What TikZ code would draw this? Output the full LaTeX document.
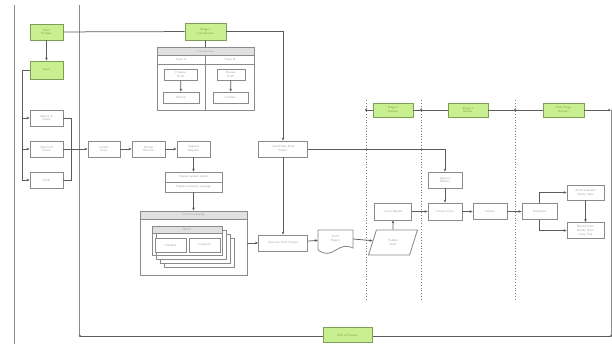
\documentclass[tikz,border=0pt]{standalone}
\usetikzlibrary{arrows.meta,shapes.geometric,calc}
\definecolor{lgreen}{HTML}{C8F090}
\definecolor{dgreen}{HTML}{7E9E55}
\definecolor{bgray}{HTML}{8A8A8A}
\definecolor{hgray}{HTML}{E0E0E0}
\definecolor{lcol}{HTML}{5C5C5C}
\definecolor{tcol}{HTML}{A0A0A0}
\definecolor{gtcol}{HTML}{7A9A50}
\tikzset{
  bx/.style={draw=bgray, fill=white, line width=0.85pt, inner sep=0pt, align=center,
    font=\sffamily\fontsize{3}{3.6}\selectfont, text=tcol},
  gbx/.style={bx, draw=dgreen, fill=lgreen, text=gtcol},
  lbl/.style={inner sep=0pt, align=center, font=\sffamily\fontsize{3}{3.6}\selectfont, text=tcol},
  conn/.style={draw=lcol, line width=0.75pt},
  arr/.style={conn, -{Stealth[length=3pt,width=2.6pt]}},
  lane/.style={draw=bgray, line width=0.9pt},
  sep/.style={draw=lcol!80, line width=0.8pt, dotted},
  enddot/.style={circle, fill=lcol, inner sep=0pt, minimum size=2.2pt},
}
\begin{document}
\begin{tikzpicture}[x=1pt,y=-1pt]
\useasboundingbox[fill=white] (0,0) rectangle (612,344);

% lane lines
\coordinate (t14) at (14,5);   \coordinate (b14) at (14,344);
\coordinate (t79) at (79,5);   \coordinate (b79) at (79,336);
\draw[lane] (t14) -- (b14);
\draw[lane] (t79) -- (b79);

% dotted separators
\foreach \xx/\nm in {366/sa,421/sb,515/sc}{
  \coordinate (\nm t) at (\xx,100);
  \coordinate (\nm b) at (\xx,300);
  \draw[sep] (\nm t) -- (\nm b);
}

% bottom lane line and right line
\coordinate (bl) at (80,336);
\coordinate (br) at (611,336);
\coordinate (rt) at (611,110);
\draw[lane] (rt) -- (br);
\draw[conn] (bl) -- (br);
\node[enddot] (bld) at (bl) {};
\node[enddot] (brd) at (br) {};
\node[gbx, minimum width=49, minimum height=15] (W) at (347.5,335) {End of Process};

% left column
\node[gbx, minimum width=33, minimum height=16] (A) at (46.5,32) {Start\\Process};
\node[gbx, minimum width=33, minimum height=18] (B) at (46.5,70) {Input};
\node[bx, minimum width=33, minimum height=16] (C1) at (46.5,118) {Option A\\Check};
\node[bx, minimum width=33, minimum height=16] (C2) at (46.5,149) {Option B\\Check};
\node[bx, minimum width=33, minimum height=16] (C3) at (46.5,180) {Other};
\draw[arr] (A) -- (B);
\coordinate (ba) at (22,180);
\coordinate (b1) at (22,118);
\coordinate (b2) at (22,149);
\draw[conn] (B.west) -| (ba);
\draw[arr] (b1) -- (C1.west);
\draw[arr] (b2) -- (C2.west);
\draw[arr] (ba) -- (C3.west);
\coordinate (m) at (71,149);
\draw[conn] (C1.east) -| (m);
\draw[conn] (C3.east) -| (m);

% main chain
\node[bx, minimum width=32, minimum height=16] (D) at (104,149) {Collect\\Data};
\node[bx, minimum width=33, minimum height=16] (E) at (148.5,149) {Review\\Records};
\node[bx, minimum width=33, minimum height=16] (F) at (193.5,149) {Approve\\Request};
\draw[arr] (C2.east) -- (D.west);
\draw[arr] (D) -- (E);
\draw[arr] (E) -- (F);

\node[bx, minimum width=57, minimum height=20] (G) at (193.5,182) {};
\draw[bgray, line width=0.7pt] (G.west) -- (G.east);
\node[lbl] (G1) at (193.5,177) {Update system record};
\node[lbl] (G2) at (193.5,187) {Prepare summary package};
\draw[arr] (F) -- (G);

% big box H with stacked cards
\node[bx, minimum width=107, minimum height=64] (H) at (193.5,243) {};
\fill[hgray] (140,211) rectangle (247,219);
\draw[bgray, line width=0.85pt] (140,211) rectangle (247,275) (140,219) -- (247,219);
\node[lbl] (Hh) at (193.5,215) {Data Processing};
\foreach \o in {12,8,4}{
  \draw[bgray, fill=white, line width=0.7pt] (152+\o,226+\o) rectangle (222+\o,255+\o);
}
\fill[hgray] (152,226) rectangle (222,233);
\draw[bgray, fill=none, line width=0.85pt] (152,226) rectangle (222,255) (152,233) -- (222,233);
\node[lbl] (Ch) at (187,229.5) {Batch};
\node[bx, minimum width=31, minimum height=14] (H1) at (170.5,245) {Validate};
\node[bx, minimum width=31, minimum height=14] (H2) at (204.5,245) {Compute};
\draw[arr] (G) -- (H);

% top middle
\node[gbx, minimum width=41, minimum height=17] (T) at (205.5,31.5) {Stage 1\\Coordination};
\node[bx, minimum width=97, minimum height=63] (U) at (205.5,78.5) {};
\fill[hgray] (157,47) rectangle (254,55);
\draw[bgray, line width=0.85pt] (157,47) rectangle (254,110) (157,55) -- (254,55) (157,64) -- (254,64) (205.5,55) -- (205.5,110);
\node[lbl] (Uh) at (205.5,51) {Coordination};
\node[lbl] (Ua) at (181,59.5) {Team A};
\node[lbl] (Ub) at (230,59.5) {Team B};
\node[bx, minimum width=33, minimum height=11] (U1) at (180.5,74.5) {Prepare\\Draft};
\node[bx, minimum width=36, minimum height=11] (U2) at (181,97.5) {Submit};
\node[bx, minimum width=28, minimum height=11] (U3) at (231,74.5) {Review\\Draft};
\node[bx, minimum width=35, minimum height=11] (U4) at (230.5,97.5) {Finalize};
\draw[arr] (U1) -- (U2);
\draw[arr] (U3) -- (U4);
\draw[conn] (T) -- (U);
\draw[conn] (A) -- (T);

% right middle
\node[bx, minimum width=49, minimum height=16] (V) at (283,149) {Consolidate Data\\Report};
\node[bx, minimum width=49, minimum height=16] (I) at (283,243) {Generate Final Output};
\draw[arr] (T.east) -| (V.north);
\draw[arr] (V) -- (I);
\draw[arr] (H.east |- I) -- (I.west);

% document shape J
\node[inner sep=0pt, minimum width=35, minimum height=20] (J) at (335.5,239) {};
\draw[bgray, fill=white, line width=0.85pt] (318,230) -- (353,230) -- (353,248)
  .. controls (347,245) and (342,246) .. (336,250)
  .. controls (330,254) and (325,255) .. (318,250) -- cycle;
\node[lbl] (Jt) at (335.5,239) {Draft\\Report};
\draw[arr] (I) -- (J);

% parallelogram K
\node[bx, trapezium, trapezium left angle=68, trapezium right angle=112, trapezium stretches=true,
  minimum width=49, minimum height=25] (K) at (393,242.5) {Publish\\Data};
\draw[arr] (J.east) -- (K);

\node[bx, minimum width=37, minimum height=17] (L) at (393,211.5) {Check Results};
\draw[arr] (K.north) -- (L.south);
\node[bx, minimum width=34, minimum height=16] (N) at (445,180) {Approve\\Results};
\node[bx, minimum width=34, minimum height=17] (M) at (445,211.5) {Finalize Data};
\draw[arr] (V.east) -| (N.north);
\draw[arr] (N) -- (M);
\draw[arr] (L) -- (M);
\node[bx, minimum width=34, minimum height=16] (O) at (490,211.5) {Deliver};
\node[bx, minimum width=35, minimum height=16] (P) at (539.5,211.5) {Distribute};
\draw[arr] (M) -- (O);
\draw[arr] (O) -- (P);
\node[bx, minimum width=37, minimum height=15] (Q) at (585.5,192.5) {Archive Results\\Notify Users};
\node[bx, minimum width=37, minimum height=16] (R) at (585.5,230.5) {Record Data\\Notify Team\\Close Task};
\draw[arr] (P.north) |- (Q.west);
\draw[arr] (P.south) |- (R.west);
\draw[arr] (Q) -- (R);

% top lane
\coordinate (l0) at (366,110);
\coordinate (l1) at (421,110);
\coordinate (l2) at (515,110);
\node[gbx, minimum width=40, minimum height=14] (S1) at (393,110) {Stage 2\\Output};
\node[gbx, minimum width=40, minimum height=14] (S2) at (468,110) {Stage 3\\Review};
\node[gbx, minimum width=41, minimum height=14] (S3) at (563.5,110) {Final Stage\\Delivery};
\draw[conn] (l0) -- (S1);
\draw[conn] (S1) -- (S2);
\draw[conn] (S2) -- (S3);
\draw[arr] (S3) -- (rt);
\node[enddot] (d0) at (l0) {};
\node[enddot] (d1) at (l1) {};
\node[enddot] (d2) at (l2) {};
\end{tikzpicture}
\end{document}
